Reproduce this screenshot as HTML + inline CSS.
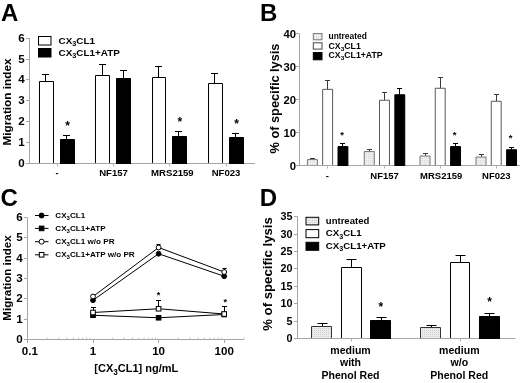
<!DOCTYPE html>
<html><head><meta charset="utf-8"><title>Figure</title>
<style>
html,body{margin:0;padding:0;background:#fff;}
svg{display:block;will-change:transform;}
text{font-family:"Liberation Sans",sans-serif;font-weight:bold;fill:#000;}
</style></head><body>
<svg width="520" height="383" viewBox="0 0 520 383">
<defs>
<pattern id="dots" width="2" height="2" patternUnits="userSpaceOnUse"><rect width="2" height="2" fill="#f0f0f0"/><rect width="1" height="1" fill="#d8d8d8"/></pattern>
<pattern id="dotsD" width="2" height="2" patternUnits="userSpaceOnUse"><rect width="2" height="2" fill="#ececec"/><rect width="1" height="1" fill="#d0d0d0"/></pattern>
</defs>
<rect width="520" height="383" fill="#fff"/>
<text x="1.00" y="21.30" font-size="24" text-anchor="start">A</text>
<line x1="29.50" y1="38.10" x2="29.50" y2="164.00" stroke="#a6a6a6" stroke-width="1"/>
<line x1="29.00" y1="163.50" x2="255.00" y2="163.50" stroke="#a6a6a6" stroke-width="1"/>
<line x1="26.00" y1="163.50" x2="29.50" y2="163.50" stroke="#a6a6a6" stroke-width="1"/>
<text x="24.80" y="167.10" font-size="11.6" text-anchor="end">0</text>
<line x1="26.00" y1="142.50" x2="29.50" y2="142.50" stroke="#a6a6a6" stroke-width="1"/>
<text x="24.80" y="146.10" font-size="11.6" text-anchor="end">1</text>
<line x1="26.00" y1="121.50" x2="29.50" y2="121.50" stroke="#a6a6a6" stroke-width="1"/>
<text x="24.80" y="125.10" font-size="11.6" text-anchor="end">2</text>
<line x1="26.00" y1="100.50" x2="29.50" y2="100.50" stroke="#a6a6a6" stroke-width="1"/>
<text x="24.80" y="104.10" font-size="11.6" text-anchor="end">3</text>
<line x1="26.00" y1="79.50" x2="29.50" y2="79.50" stroke="#a6a6a6" stroke-width="1"/>
<text x="24.80" y="83.10" font-size="11.6" text-anchor="end">4</text>
<line x1="26.00" y1="59.50" x2="29.50" y2="59.50" stroke="#a6a6a6" stroke-width="1"/>
<text x="24.80" y="63.10" font-size="11.6" text-anchor="end">5</text>
<line x1="26.00" y1="38.50" x2="29.50" y2="38.50" stroke="#a6a6a6" stroke-width="1"/>
<text x="24.80" y="42.10" font-size="11.6" text-anchor="end">6</text>
<text transform="translate(11.30,102.00) rotate(-90) scale(1.0,1)" font-size="11.8" text-anchor="middle">Migration index</text>
<line x1="57.50" y1="163.50" x2="57.50" y2="166.70" stroke="#b4b4b4" stroke-width="1"/>
<line x1="45.50" y1="81.00" x2="45.50" y2="74.50" stroke="#000" stroke-width="1"/>
<line x1="42.00" y1="74.50" x2="49.00" y2="74.50" stroke="#000" stroke-width="1"/>
<rect x="39.50" y="81.50" width="14.00" height="81.50" fill="#fff"/>
<path d="M39.50 163.00V81.50H53.50V163.00" fill="none" stroke="#000" stroke-width="1"/>
<line x1="66.50" y1="139.00" x2="66.50" y2="135.50" stroke="#000" stroke-width="1"/>
<line x1="63.00" y1="135.50" x2="70.00" y2="135.50" stroke="#000" stroke-width="1"/>
<rect x="60.50" y="139.50" width="14.00" height="24.50" fill="#000"/>
<path d="M60.50 164.00V139.50H74.50V164.00" fill="none" stroke="#000" stroke-width="1"/>
<text x="67.50" y="129.50" font-size="12" text-anchor="middle">*</text>
<text transform="translate(57.00,175.60) scale(1.03,1)" font-size="9" text-anchor="middle">-</text>
<line x1="113.50" y1="163.50" x2="113.50" y2="166.70" stroke="#b4b4b4" stroke-width="1"/>
<line x1="102.50" y1="75.00" x2="102.50" y2="64.50" stroke="#000" stroke-width="1"/>
<line x1="99.00" y1="64.50" x2="106.00" y2="64.50" stroke="#000" stroke-width="1"/>
<rect x="95.50" y="75.50" width="14.00" height="87.50" fill="#fff"/>
<path d="M95.50 163.00V75.50H109.50V163.00" fill="none" stroke="#000" stroke-width="1"/>
<line x1="123.50" y1="78.00" x2="123.50" y2="70.50" stroke="#000" stroke-width="1"/>
<line x1="120.00" y1="70.50" x2="127.00" y2="70.50" stroke="#000" stroke-width="1"/>
<rect x="116.50" y="78.50" width="14.00" height="85.50" fill="#000"/>
<path d="M116.50 164.00V78.50H130.50V164.00" fill="none" stroke="#000" stroke-width="1"/>
<text transform="translate(113.50,175.60) scale(1.03,1)" font-size="9.3" text-anchor="middle">NF157</text>
<line x1="169.50" y1="163.50" x2="169.50" y2="166.70" stroke="#b4b4b4" stroke-width="1"/>
<line x1="158.50" y1="77.00" x2="158.50" y2="66.50" stroke="#000" stroke-width="1"/>
<line x1="155.00" y1="66.50" x2="162.00" y2="66.50" stroke="#000" stroke-width="1"/>
<rect x="152.50" y="77.50" width="13.00" height="85.50" fill="#fff"/>
<path d="M152.50 163.00V77.50H165.50V163.00" fill="none" stroke="#000" stroke-width="1"/>
<line x1="178.50" y1="136.30" x2="178.50" y2="131.50" stroke="#000" stroke-width="1"/>
<line x1="175.00" y1="131.50" x2="182.00" y2="131.50" stroke="#000" stroke-width="1"/>
<rect x="172.50" y="136.50" width="14.00" height="27.50" fill="#000"/>
<path d="M172.50 164.00V136.50H186.50V164.00" fill="none" stroke="#000" stroke-width="1"/>
<text x="179.75" y="125.50" font-size="12" text-anchor="middle">*</text>
<text transform="translate(172.40,175.60) scale(1.03,1)" font-size="9.3" text-anchor="middle">MRS2159</text>
<line x1="226.50" y1="163.50" x2="226.50" y2="166.70" stroke="#b4b4b4" stroke-width="1"/>
<line x1="214.50" y1="83.00" x2="214.50" y2="73.50" stroke="#000" stroke-width="1"/>
<line x1="211.00" y1="73.50" x2="218.00" y2="73.50" stroke="#000" stroke-width="1"/>
<rect x="208.50" y="83.50" width="14.00" height="79.50" fill="#fff"/>
<path d="M208.50 163.00V83.50H222.50V163.00" fill="none" stroke="#000" stroke-width="1"/>
<line x1="235.50" y1="137.50" x2="235.50" y2="133.50" stroke="#000" stroke-width="1"/>
<line x1="232.00" y1="133.50" x2="239.00" y2="133.50" stroke="#000" stroke-width="1"/>
<rect x="229.50" y="137.50" width="14.00" height="26.50" fill="#000"/>
<path d="M229.50 164.00V137.50H243.50V164.00" fill="none" stroke="#000" stroke-width="1"/>
<text x="236.50" y="127.50" font-size="12" text-anchor="middle">*</text>
<text transform="translate(226.00,175.60) scale(1.03,1)" font-size="9.3" text-anchor="middle">NF023</text>
<rect x="38.50" y="36.50" width="12.50" height="8.50" fill="#fff" stroke="#000" stroke-width="1"/>
<rect x="38.50" y="48.50" width="12.50" height="8.50" fill="#000" stroke="#000" stroke-width="1"/>
<text transform="translate(58.50,43.60) scale(1.065,1)" font-size="9.3" text-anchor="start">CX<tspan font-size="6.88" dy="2.33">3</tspan><tspan dy="-2.33">CL1</tspan></text>
<text transform="translate(58.50,55.80) scale(1.065,1)" font-size="9.3" text-anchor="start">CX<tspan font-size="6.88" dy="2.33">3</tspan><tspan dy="-2.33">CL1+ATP</tspan></text>
<text x="260.00" y="21.30" font-size="24" text-anchor="start">B</text>
<line x1="299.50" y1="33.90" x2="299.50" y2="166.00" stroke="#a6a6a6" stroke-width="1"/>
<line x1="299.00" y1="165.50" x2="520.00" y2="165.50" stroke="#a6a6a6" stroke-width="1"/>
<line x1="296.00" y1="165.50" x2="299.50" y2="165.50" stroke="#a6a6a6" stroke-width="1"/>
<text x="296.00" y="169.60" font-size="11.3" text-anchor="end">0</text>
<line x1="296.00" y1="132.50" x2="299.50" y2="132.50" stroke="#a6a6a6" stroke-width="1"/>
<text x="296.00" y="136.60" font-size="11.3" text-anchor="end">10</text>
<line x1="296.00" y1="99.50" x2="299.50" y2="99.50" stroke="#a6a6a6" stroke-width="1"/>
<text x="296.00" y="103.60" font-size="11.3" text-anchor="end">20</text>
<line x1="296.00" y1="66.50" x2="299.50" y2="66.50" stroke="#a6a6a6" stroke-width="1"/>
<text x="296.00" y="70.60" font-size="11.3" text-anchor="end">30</text>
<line x1="296.00" y1="33.50" x2="299.50" y2="33.50" stroke="#a6a6a6" stroke-width="1"/>
<text x="296.00" y="37.60" font-size="11.3" text-anchor="end">40</text>
<text transform="translate(278.60,98.50) rotate(-90) scale(1.0,1)" font-size="12.75" text-anchor="middle">% of specific lysis</text>
<line x1="327.50" y1="165.50" x2="327.50" y2="168.50" stroke="#b4b4b4" stroke-width="1"/>
<line x1="312.50" y1="159.30" x2="312.50" y2="158.50" stroke="#3a3a3a" stroke-width="1"/>
<line x1="310.00" y1="158.50" x2="315.00" y2="158.50" stroke="#3a3a3a" stroke-width="1"/>
<rect x="307.40" y="159.55" width="10.00" height="5.45" fill="url(#dots)"/>
<path d="M307.40 165.00V159.55H317.40V165.00" fill="none" stroke="#777" stroke-width="1"/>
<line x1="327.50" y1="89.10" x2="327.50" y2="80.50" stroke="#3a3a3a" stroke-width="1"/>
<line x1="325.00" y1="80.50" x2="330.00" y2="80.50" stroke="#3a3a3a" stroke-width="1"/>
<rect x="322.65" y="89.35" width="9.95" height="75.65" fill="#fff"/>
<path d="M322.65 165.00V89.35H332.60V165.00" fill="none" stroke="#585858" stroke-width="1"/>
<line x1="342.50" y1="146.30" x2="342.50" y2="143.50" stroke="#000" stroke-width="1"/>
<line x1="340.00" y1="143.50" x2="345.00" y2="143.50" stroke="#000" stroke-width="1"/>
<rect x="338.00" y="146.55" width="9.90" height="19.45" fill="#000"/>
<path d="M338.00 166.00V146.55H347.90V166.00" fill="none" stroke="#000" stroke-width="1"/>
<text x="342.05" y="138.25" font-size="9.5" text-anchor="middle">*</text>
<text transform="translate(327.40,178.90) scale(1.01,1)" font-size="9.4" text-anchor="middle">-</text>
<line x1="384.50" y1="165.50" x2="384.50" y2="168.50" stroke="#b4b4b4" stroke-width="1"/>
<line x1="369.50" y1="151.30" x2="369.50" y2="149.50" stroke="#3a3a3a" stroke-width="1"/>
<line x1="367.00" y1="149.50" x2="372.00" y2="149.50" stroke="#3a3a3a" stroke-width="1"/>
<rect x="364.25" y="151.55" width="10.00" height="13.45" fill="url(#dots)"/>
<path d="M364.25 165.00V151.55H374.25V165.00" fill="none" stroke="#777" stroke-width="1"/>
<line x1="384.50" y1="100.00" x2="384.50" y2="92.50" stroke="#3a3a3a" stroke-width="1"/>
<line x1="382.00" y1="92.50" x2="387.00" y2="92.50" stroke="#3a3a3a" stroke-width="1"/>
<rect x="379.50" y="100.25" width="9.95" height="64.75" fill="#fff"/>
<path d="M379.50 165.00V100.25H389.45V165.00" fill="none" stroke="#585858" stroke-width="1"/>
<line x1="399.50" y1="94.50" x2="399.50" y2="88.50" stroke="#000" stroke-width="1"/>
<line x1="397.00" y1="88.50" x2="402.00" y2="88.50" stroke="#000" stroke-width="1"/>
<rect x="394.85" y="94.75" width="9.90" height="71.25" fill="#000"/>
<path d="M394.85 166.00V94.75H404.75V166.00" fill="none" stroke="#000" stroke-width="1"/>
<text transform="translate(384.55,178.90) scale(1.01,1)" font-size="9.4" text-anchor="middle">NF157</text>
<line x1="440.50" y1="165.50" x2="440.50" y2="168.50" stroke="#b4b4b4" stroke-width="1"/>
<line x1="425.50" y1="155.80" x2="425.50" y2="153.50" stroke="#3a3a3a" stroke-width="1"/>
<line x1="423.00" y1="153.50" x2="428.00" y2="153.50" stroke="#3a3a3a" stroke-width="1"/>
<rect x="420.00" y="156.05" width="10.00" height="8.95" fill="url(#dots)"/>
<path d="M420.00 165.00V156.05H430.00V165.00" fill="none" stroke="#777" stroke-width="1"/>
<line x1="440.50" y1="88.00" x2="440.50" y2="77.50" stroke="#3a3a3a" stroke-width="1"/>
<line x1="438.00" y1="77.50" x2="443.00" y2="77.50" stroke="#3a3a3a" stroke-width="1"/>
<rect x="435.25" y="88.25" width="9.95" height="76.75" fill="#fff"/>
<path d="M435.25 165.00V88.25H445.20V165.00" fill="none" stroke="#585858" stroke-width="1"/>
<line x1="455.50" y1="146.30" x2="455.50" y2="143.50" stroke="#000" stroke-width="1"/>
<line x1="453.00" y1="143.50" x2="458.00" y2="143.50" stroke="#000" stroke-width="1"/>
<rect x="450.60" y="146.55" width="9.90" height="19.45" fill="#000"/>
<path d="M450.60 166.00V146.55H460.50V166.00" fill="none" stroke="#000" stroke-width="1"/>
<text x="454.65" y="138.25" font-size="9.5" text-anchor="middle">*</text>
<text transform="translate(441.20,178.90) scale(1.01,1)" font-size="9.4" text-anchor="middle">MRS2159</text>
<line x1="496.50" y1="165.50" x2="496.50" y2="168.50" stroke="#b4b4b4" stroke-width="1"/>
<line x1="481.50" y1="156.80" x2="481.50" y2="154.50" stroke="#3a3a3a" stroke-width="1"/>
<line x1="479.00" y1="154.50" x2="484.00" y2="154.50" stroke="#3a3a3a" stroke-width="1"/>
<rect x="476.00" y="157.05" width="10.00" height="7.95" fill="url(#dots)"/>
<path d="M476.00 165.00V157.05H486.00V165.00" fill="none" stroke="#777" stroke-width="1"/>
<line x1="496.50" y1="101.00" x2="496.50" y2="94.50" stroke="#3a3a3a" stroke-width="1"/>
<line x1="494.00" y1="94.50" x2="499.00" y2="94.50" stroke="#3a3a3a" stroke-width="1"/>
<rect x="491.25" y="101.25" width="9.95" height="63.75" fill="#fff"/>
<path d="M491.25 165.00V101.25H501.20V165.00" fill="none" stroke="#585858" stroke-width="1"/>
<line x1="511.50" y1="149.50" x2="511.50" y2="147.50" stroke="#000" stroke-width="1"/>
<line x1="509.00" y1="147.50" x2="514.00" y2="147.50" stroke="#000" stroke-width="1"/>
<rect x="506.60" y="149.75" width="9.90" height="16.25" fill="#000"/>
<path d="M506.60 166.00V149.75H516.50V166.00" fill="none" stroke="#000" stroke-width="1"/>
<text x="510.65" y="141.45" font-size="9.5" text-anchor="middle">*</text>
<text transform="translate(496.30,178.90) scale(1.01,1)" font-size="9.4" text-anchor="middle">NF023</text>
<rect x="313.30" y="33.60" width="8.70" height="6.20" fill="url(#dots)" stroke="#777" stroke-width="1"/>
<rect x="313.30" y="42.80" width="8.70" height="6.30" fill="#fff" stroke="#444" stroke-width="1"/>
<rect x="313.30" y="52.60" width="8.70" height="7.20" fill="#000" stroke="#000" stroke-width="1"/>
<text transform="translate(328.50,39.40) scale(1.025,1)" font-size="8.2" text-anchor="start">untreated</text>
<text transform="translate(328.50,48.90) scale(1.065,1)" font-size="8.2" text-anchor="start">CX<tspan font-size="6.07" dy="2.05">3</tspan><tspan dy="-2.05">CL1</tspan></text>
<text transform="translate(328.50,58.20) scale(1.065,1)" font-size="8.2" text-anchor="start">CX<tspan font-size="6.07" dy="2.05">3</tspan><tspan dy="-2.05">CL1+ATP</tspan></text>
<text x="0.60" y="206.30" font-size="24" text-anchor="start">C</text>
<line x1="27.50" y1="217.52" x2="27.50" y2="340.00" stroke="#a6a6a6" stroke-width="1"/>
<line x1="27.00" y1="339.50" x2="243.95" y2="339.50" stroke="#a6a6a6" stroke-width="1"/>
<line x1="24.00" y1="339.50" x2="27.50" y2="339.50" stroke="#a6a6a6" stroke-width="1"/>
<text x="22.80" y="343.00" font-size="11.6" text-anchor="end">0</text>
<line x1="24.00" y1="319.50" x2="27.50" y2="319.50" stroke="#a6a6a6" stroke-width="1"/>
<text x="22.80" y="323.00" font-size="11.6" text-anchor="end">1</text>
<line x1="24.00" y1="298.50" x2="27.50" y2="298.50" stroke="#a6a6a6" stroke-width="1"/>
<text x="22.80" y="302.00" font-size="11.6" text-anchor="end">2</text>
<line x1="24.00" y1="278.50" x2="27.50" y2="278.50" stroke="#a6a6a6" stroke-width="1"/>
<text x="22.80" y="282.00" font-size="11.6" text-anchor="end">3</text>
<line x1="24.00" y1="258.50" x2="27.50" y2="258.50" stroke="#a6a6a6" stroke-width="1"/>
<text x="22.80" y="262.00" font-size="11.6" text-anchor="end">4</text>
<line x1="24.00" y1="237.50" x2="27.50" y2="237.50" stroke="#a6a6a6" stroke-width="1"/>
<text x="22.80" y="241.00" font-size="11.6" text-anchor="end">5</text>
<line x1="24.00" y1="217.50" x2="27.50" y2="217.50" stroke="#a6a6a6" stroke-width="1"/>
<text x="22.80" y="221.00" font-size="11.6" text-anchor="end">6</text>
<text transform="translate(10.50,278.00) rotate(-90) scale(1.0,1)" font-size="11.55" text-anchor="middle">Migration index</text>
<line x1="27.50" y1="339.50" x2="27.50" y2="343.00" stroke="#a6a6a6" stroke-width="1"/>
<line x1="47.15" y1="337.50" x2="47.15" y2="339.50" stroke="#b5b5b5" stroke-width="0.8"/>
<line x1="58.70" y1="337.50" x2="58.70" y2="339.50" stroke="#b5b5b5" stroke-width="0.8"/>
<line x1="66.90" y1="337.50" x2="66.90" y2="339.50" stroke="#b5b5b5" stroke-width="0.8"/>
<line x1="73.25" y1="337.50" x2="73.25" y2="339.50" stroke="#b5b5b5" stroke-width="0.8"/>
<line x1="78.45" y1="337.50" x2="78.45" y2="339.50" stroke="#b5b5b5" stroke-width="0.8"/>
<line x1="82.84" y1="337.50" x2="82.84" y2="339.50" stroke="#b5b5b5" stroke-width="0.8"/>
<line x1="86.64" y1="337.50" x2="86.64" y2="339.50" stroke="#b5b5b5" stroke-width="0.8"/>
<line x1="90.00" y1="337.50" x2="90.00" y2="339.50" stroke="#b5b5b5" stroke-width="0.8"/>
<line x1="93.50" y1="339.50" x2="93.50" y2="343.00" stroke="#a6a6a6" stroke-width="1"/>
<line x1="112.75" y1="337.50" x2="112.75" y2="339.50" stroke="#b5b5b5" stroke-width="0.8"/>
<line x1="124.30" y1="337.50" x2="124.30" y2="339.50" stroke="#b5b5b5" stroke-width="0.8"/>
<line x1="132.50" y1="337.50" x2="132.50" y2="339.50" stroke="#b5b5b5" stroke-width="0.8"/>
<line x1="138.85" y1="337.50" x2="138.85" y2="339.50" stroke="#b5b5b5" stroke-width="0.8"/>
<line x1="144.05" y1="337.50" x2="144.05" y2="339.50" stroke="#b5b5b5" stroke-width="0.8"/>
<line x1="148.44" y1="337.50" x2="148.44" y2="339.50" stroke="#b5b5b5" stroke-width="0.8"/>
<line x1="152.24" y1="337.50" x2="152.24" y2="339.50" stroke="#b5b5b5" stroke-width="0.8"/>
<line x1="155.60" y1="337.50" x2="155.60" y2="339.50" stroke="#b5b5b5" stroke-width="0.8"/>
<line x1="158.50" y1="339.50" x2="158.50" y2="343.00" stroke="#a6a6a6" stroke-width="1"/>
<line x1="178.35" y1="337.50" x2="178.35" y2="339.50" stroke="#b5b5b5" stroke-width="0.8"/>
<line x1="189.90" y1="337.50" x2="189.90" y2="339.50" stroke="#b5b5b5" stroke-width="0.8"/>
<line x1="198.10" y1="337.50" x2="198.10" y2="339.50" stroke="#b5b5b5" stroke-width="0.8"/>
<line x1="204.45" y1="337.50" x2="204.45" y2="339.50" stroke="#b5b5b5" stroke-width="0.8"/>
<line x1="209.65" y1="337.50" x2="209.65" y2="339.50" stroke="#b5b5b5" stroke-width="0.8"/>
<line x1="214.04" y1="337.50" x2="214.04" y2="339.50" stroke="#b5b5b5" stroke-width="0.8"/>
<line x1="217.84" y1="337.50" x2="217.84" y2="339.50" stroke="#b5b5b5" stroke-width="0.8"/>
<line x1="221.20" y1="337.50" x2="221.20" y2="339.50" stroke="#b5b5b5" stroke-width="0.8"/>
<line x1="224.50" y1="339.50" x2="224.50" y2="343.00" stroke="#a6a6a6" stroke-width="1"/>
<line x1="243.95" y1="337.50" x2="243.95" y2="339.50" stroke="#b5b5b5" stroke-width="0.8"/>
<text x="29.80" y="354.80" font-size="11.6" text-anchor="middle">0.1</text>
<text x="93.00" y="354.80" font-size="11.6" text-anchor="middle">1</text>
<text x="158.60" y="354.80" font-size="11.6" text-anchor="middle">10</text>
<text x="224.20" y="354.80" font-size="11.6" text-anchor="middle">100</text>
<text x="94.30" y="372.20" font-size="11" text-anchor="start">[CX<tspan font-size="8.2" dy="2.7">3</tspan><tspan dy="-2.7">CL1] ng/mL</tspan></text>
<polyline points="93.00,300.25 158.60,253.75 224.20,276.25" fill="none" stroke="#000" stroke-width="1"/>
<polyline points="93.00,296.50 158.60,247.50 224.20,272.00" fill="none" stroke="#000" stroke-width="1"/>
<polyline points="93.00,315.25 158.60,317.75 224.20,314.50" fill="none" stroke="#000" stroke-width="1"/>
<polyline points="93.00,312.50 158.60,308.75 224.20,314.00" fill="none" stroke="#000" stroke-width="1"/>
<line x1="93.50" y1="312.50" x2="93.50" y2="307.50" stroke="#000" stroke-width="1"/>
<line x1="91.00" y1="307.50" x2="96.00" y2="307.50" stroke="#000" stroke-width="1"/>
<line x1="158.50" y1="308.75" x2="158.50" y2="300.50" stroke="#000" stroke-width="1"/>
<line x1="156.00" y1="300.50" x2="161.00" y2="300.50" stroke="#000" stroke-width="1"/>
<line x1="224.50" y1="314.00" x2="224.50" y2="306.50" stroke="#000" stroke-width="1"/>
<line x1="222.00" y1="306.50" x2="227.00" y2="306.50" stroke="#000" stroke-width="1"/>
<line x1="158.50" y1="247.50" x2="158.50" y2="244.50" stroke="#000" stroke-width="1"/>
<line x1="156.50" y1="244.50" x2="160.50" y2="244.50" stroke="#000" stroke-width="1"/>
<line x1="224.50" y1="272.00" x2="224.50" y2="268.50" stroke="#000" stroke-width="1"/>
<line x1="222.50" y1="268.50" x2="226.50" y2="268.50" stroke="#000" stroke-width="1"/>
<circle cx="93.00" cy="300.25" r="2.4" fill="#000" stroke="#000" stroke-width="1"/>
<circle cx="158.60" cy="253.75" r="2.4" fill="#000" stroke="#000" stroke-width="1"/>
<circle cx="224.20" cy="276.25" r="2.4" fill="#000" stroke="#000" stroke-width="1"/>
<rect x="90.70" y="312.95" width="4.60" height="4.60" fill="#000" stroke="#000" stroke-width="1"/>
<rect x="156.30" y="315.45" width="4.60" height="4.60" fill="#000" stroke="#000" stroke-width="1"/>
<rect x="221.90" y="312.20" width="4.60" height="4.60" fill="#000" stroke="#000" stroke-width="1"/>
<circle cx="93.00" cy="296.50" r="2.4" fill="#fff" stroke="#000" stroke-width="1"/>
<circle cx="158.60" cy="247.50" r="2.4" fill="#fff" stroke="#000" stroke-width="1"/>
<circle cx="224.20" cy="272.00" r="2.4" fill="#fff" stroke="#000" stroke-width="1"/>
<rect x="90.70" y="310.20" width="4.60" height="4.60" fill="#fff" stroke="#000" stroke-width="1"/>
<rect x="156.30" y="306.45" width="4.60" height="4.60" fill="#fff" stroke="#000" stroke-width="1"/>
<rect x="221.90" y="311.70" width="4.60" height="4.60" fill="#fff" stroke="#000" stroke-width="1"/>
<text x="158.60" y="298.10" font-size="9" text-anchor="middle">*</text>
<text x="225.20" y="304.70" font-size="9" text-anchor="middle">*</text>
<line x1="35.00" y1="215.50" x2="48.50" y2="215.50" stroke="#000" stroke-width="1"/>
<circle cx="41.60" cy="215.50" r="2.5" fill="#000" stroke="#000" stroke-width="1"/>
<text transform="translate(55.30,217.95) scale(1.015,1)" font-size="8" text-anchor="start">CX<tspan font-size="5.92" dy="2.0">3</tspan><tspan dy="-2.0">CL1</tspan></text>
<line x1="35.00" y1="228.40" x2="48.50" y2="228.40" stroke="#000" stroke-width="1"/>
<rect x="39.30" y="226.10" width="4.60" height="4.60" fill="#000" stroke="#000" stroke-width="1"/>
<text transform="translate(55.30,230.85) scale(1.015,1)" font-size="8" text-anchor="start">CX<tspan font-size="5.92" dy="2.0">3</tspan><tspan dy="-2.0">CL1+ATP</tspan></text>
<line x1="35.00" y1="241.70" x2="48.50" y2="241.70" stroke="#000" stroke-width="1"/>
<circle cx="41.60" cy="241.70" r="2.5" fill="#fff" stroke="#000" stroke-width="1"/>
<text transform="translate(55.30,244.15) scale(1.015,1)" font-size="8" text-anchor="start">CX<tspan font-size="5.92" dy="2.0">3</tspan><tspan dy="-2.0">CL1 w/o PR</tspan></text>
<line x1="35.00" y1="254.80" x2="48.50" y2="254.80" stroke="#000" stroke-width="1"/>
<rect x="39.30" y="252.50" width="4.60" height="4.60" fill="#fff" stroke="#000" stroke-width="1"/>
<text transform="translate(55.30,257.25) scale(1.015,1)" font-size="8" text-anchor="start">CX<tspan font-size="5.92" dy="2.0">3</tspan><tspan dy="-2.0">CL1+ATP w/o PR</tspan></text>
<text x="259.70" y="205.90" font-size="24" text-anchor="start">D</text>
<line x1="297.50" y1="216.70" x2="297.50" y2="339.00" stroke="#a6a6a6" stroke-width="1"/>
<line x1="297.00" y1="338.50" x2="515.50" y2="338.50" stroke="#a6a6a6" stroke-width="1"/>
<line x1="294.00" y1="338.50" x2="297.50" y2="338.50" stroke="#a6a6a6" stroke-width="1"/>
<text x="292.50" y="342.40" font-size="10.8" text-anchor="end">0</text>
<line x1="294.00" y1="321.50" x2="297.50" y2="321.50" stroke="#a6a6a6" stroke-width="1"/>
<text x="292.50" y="325.40" font-size="10.8" text-anchor="end">5</text>
<line x1="294.00" y1="303.50" x2="297.50" y2="303.50" stroke="#a6a6a6" stroke-width="1"/>
<text x="292.50" y="307.40" font-size="10.8" text-anchor="end">10</text>
<line x1="294.00" y1="286.50" x2="297.50" y2="286.50" stroke="#a6a6a6" stroke-width="1"/>
<text x="292.50" y="290.40" font-size="10.8" text-anchor="end">15</text>
<line x1="294.00" y1="268.50" x2="297.50" y2="268.50" stroke="#a6a6a6" stroke-width="1"/>
<text x="292.50" y="272.40" font-size="10.8" text-anchor="end">20</text>
<line x1="294.00" y1="251.50" x2="297.50" y2="251.50" stroke="#a6a6a6" stroke-width="1"/>
<text x="292.50" y="255.40" font-size="10.8" text-anchor="end">25</text>
<line x1="294.00" y1="234.50" x2="297.50" y2="234.50" stroke="#a6a6a6" stroke-width="1"/>
<text x="292.50" y="238.40" font-size="10.8" text-anchor="end">30</text>
<line x1="294.00" y1="216.50" x2="297.50" y2="216.50" stroke="#a6a6a6" stroke-width="1"/>
<text x="292.50" y="220.40" font-size="10.8" text-anchor="end">35</text>
<text transform="translate(272.20,274.00) rotate(-90) scale(1.0,1)" font-size="13.2" text-anchor="middle">% of specific lysis</text>
<line x1="351.50" y1="338.50" x2="351.50" y2="341.50" stroke="#b4b4b4" stroke-width="1"/>
<line x1="322.50" y1="326.70" x2="322.50" y2="323.50" stroke="#000" stroke-width="1"/>
<line x1="317.50" y1="323.50" x2="327.50" y2="323.50" stroke="#000" stroke-width="1"/>
<rect x="311.50" y="326.50" width="20.00" height="11.50" fill="url(#dotsD)"/>
<path d="M311.50 338.00V326.50H331.50V338.00" fill="none" stroke="#333" stroke-width="1"/>
<line x1="351.50" y1="267.30" x2="351.50" y2="259.50" stroke="#000" stroke-width="1"/>
<line x1="346.50" y1="259.50" x2="356.50" y2="259.50" stroke="#000" stroke-width="1"/>
<rect x="341.50" y="267.50" width="20.00" height="70.50" fill="#fff"/>
<path d="M341.50 338.00V267.50H361.50V338.00" fill="none" stroke="#000" stroke-width="1"/>
<line x1="381.50" y1="320.30" x2="381.50" y2="317.50" stroke="#000" stroke-width="1"/>
<line x1="376.50" y1="317.50" x2="386.50" y2="317.50" stroke="#000" stroke-width="1"/>
<rect x="370.50" y="320.50" width="20.00" height="18.50" fill="#000"/>
<path d="M370.50 339.00V320.50H390.50V339.00" fill="none" stroke="#000" stroke-width="1"/>
<text x="380.82" y="310.50" font-size="12" text-anchor="middle">*</text>
<text x="350.50" y="353.80" font-size="10.55" text-anchor="middle">medium</text>
<text x="350.50" y="366.40" font-size="10.55" text-anchor="middle">with</text>
<text x="350.50" y="379.00" font-size="10.55" text-anchor="middle">Phenol Red</text>
<line x1="460.50" y1="338.50" x2="460.50" y2="341.50" stroke="#b4b4b4" stroke-width="1"/>
<line x1="431.50" y1="327.80" x2="431.50" y2="325.50" stroke="#000" stroke-width="1"/>
<line x1="426.50" y1="325.50" x2="436.50" y2="325.50" stroke="#000" stroke-width="1"/>
<rect x="420.50" y="327.50" width="20.00" height="10.50" fill="url(#dotsD)"/>
<path d="M420.50 338.00V327.50H440.50V338.00" fill="none" stroke="#333" stroke-width="1"/>
<line x1="460.50" y1="262.00" x2="460.50" y2="255.50" stroke="#000" stroke-width="1"/>
<line x1="455.50" y1="255.50" x2="465.50" y2="255.50" stroke="#000" stroke-width="1"/>
<rect x="450.50" y="262.50" width="19.00" height="75.50" fill="#fff"/>
<path d="M450.50 338.00V262.50H469.50V338.00" fill="none" stroke="#000" stroke-width="1"/>
<line x1="489.50" y1="316.30" x2="489.50" y2="313.50" stroke="#000" stroke-width="1"/>
<line x1="484.50" y1="313.50" x2="494.50" y2="313.50" stroke="#000" stroke-width="1"/>
<rect x="479.50" y="316.50" width="20.00" height="22.50" fill="#000"/>
<path d="M479.50 339.00V316.50H499.50V339.00" fill="none" stroke="#000" stroke-width="1"/>
<text x="489.62" y="305.50" font-size="12" text-anchor="middle">*</text>
<text x="459.30" y="353.80" font-size="10.55" text-anchor="middle">medium</text>
<text x="459.30" y="366.40" font-size="10.55" text-anchor="middle">w/o</text>
<text x="459.30" y="379.00" font-size="10.55" text-anchor="middle">Phenol Red</text>
<rect x="306.00" y="217.30" width="12.70" height="7.60" fill="url(#dotsD)" stroke="#000" stroke-width="1"/>
<rect x="306.00" y="229.60" width="12.70" height="8.10" fill="#fff" stroke="#000" stroke-width="1"/>
<rect x="306.00" y="242.30" width="12.70" height="8.00" fill="#000" stroke="#000" stroke-width="1"/>
<text transform="translate(325.80,223.80) scale(1.05,1)" font-size="9.1" text-anchor="start">untreated</text>
<text transform="translate(325.80,236.40) scale(1.065,1)" font-size="9.1" text-anchor="start">CX<tspan font-size="6.73" dy="2.27">3</tspan><tspan dy="-2.27">CL1</tspan></text>
<text transform="translate(325.80,248.90) scale(1.065,1)" font-size="9.1" text-anchor="start">CX<tspan font-size="6.73" dy="2.27">3</tspan><tspan dy="-2.27">CL1+ATP</tspan></text>
</svg>
</body></html>
